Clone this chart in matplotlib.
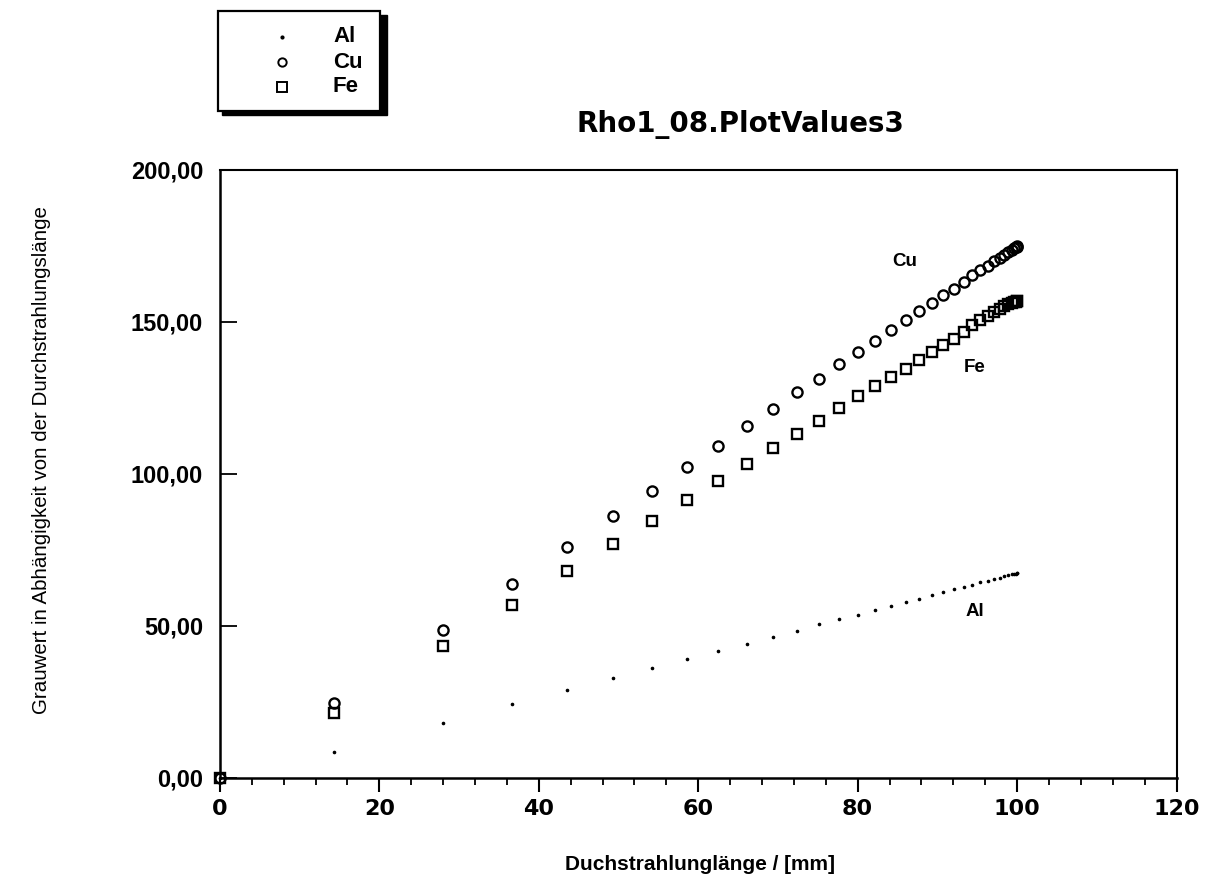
import matplotlib
matplotlib.use("Agg")
import matplotlib.pyplot as plt
from matplotlib.patches import Rectangle
from matplotlib.ticker import FuncFormatter, MultipleLocator

# Durchstrahlungslaenge [mm]
length_mm = [0, 14.3, 28.0, 36.7, 43.5, 49.3, 54.2, 58.6, 62.5, 66.1, 69.4,
             72.4, 75.1, 77.7, 80.0, 82.2, 84.2, 86.0, 87.7, 89.3, 90.7,
             92.1, 93.3, 94.4, 95.4, 96.3, 97.1, 97.8, 98.4, 98.9, 99.3,
             99.6, 99.8, 99.95, 100.0]

grau_cu = [0, 24.5, 48.7, 63.9, 75.8, 86.1, 94.5, 102.3, 109.3, 115.6, 121.3,
           126.8, 131.1, 136.1, 140.1, 143.7, 147.4, 150.7, 153.6, 156.3, 158.9,
           160.9, 163.2, 165.3, 167.0, 168.5, 169.9, 171.1, 172.1, 172.9, 173.6,
           174.1, 174.5, 174.7, 174.8]

grau_fe = [0, 21.5, 43.4, 57.0, 67.9, 76.8, 84.4, 91.4, 97.7, 103.3, 108.6,
           113.2, 117.5, 121.5, 125.5, 128.8, 131.8, 134.4, 137.4, 140.1, 142.4,
           144.4, 146.7, 149.0, 150.6, 152.0, 153.3, 154.3, 155.1, 155.7, 156.1,
           156.4, 156.6, 156.7, 156.8]

grau_al = [0, 8.6, 18.2, 24.2, 28.8, 32.8, 36.1, 39.1, 41.7, 44.0, 46.4,
           48.3, 50.7, 52.3, 53.6, 55.3, 56.6, 57.8, 59.0, 60.1, 61.1,
           62.0, 62.8, 63.6, 64.3, 64.9, 65.5, 65.9, 66.3, 66.6, 66.9,
           67.1, 67.2, 67.3, 67.3]

curve_labels = ["Cu", "Fe", "Al"]
label_pos = [(85.9, 169.9), (94.7, 135.0), (94.7, 54.6)]

FONT = ["Liberation Sans", "DejaVu Sans"]

fig = plt.figure(figsize=(12.08, 8.84), dpi=100)
ax = fig.add_axes([0.182, 0.120, 0.792, 0.688])

ax.plot(length_mm, grau_al, ls="none", marker="o", ms=1.6, color="black",
        clip_on=False)
ax.plot(length_mm, grau_cu, ls="none", marker="o", ms=7.3, mfc="none",
        mec="black", mew=1.7, clip_on=False)
ax.plot(length_mm, grau_fe, ls="none", marker="s", ms=7.5, mfc="none",
        mec="black", mew=1.7, clip_on=False)

for txt, (x, y) in zip(curve_labels, label_pos):
    ax.text(x, y, txt, ha="center", va="center", fontsize=13.5,
            fontweight="bold", family=FONT)

ax.set_xlim(0, 120)
ax.set_ylim(0, 200)
ax.xaxis.set_major_locator(MultipleLocator(20))
ax.xaxis.set_minor_locator(MultipleLocator(4))
ax.yaxis.set_major_locator(MultipleLocator(50))
ax.yaxis.set_major_formatter(FuncFormatter(lambda v, p: f"{v:.2f}".replace(".", ",")))

ax.tick_params(axis="x", which="major", direction="out", length=10, width=1.5,
               pad=5, labelsize=16)
ax.tick_params(axis="x", which="minor", direction="out", length=5, width=1.3)
ax.tick_params(axis="y", which="major", direction="in", length=12, width=1.3,
               pad=12, labelsize=17)
for lab in ax.get_xticklabels():
    lab.set_fontweight("bold")
    lab.set_family(["DejaVu Sans"])
for lab in ax.get_yticklabels():
    lab.set_fontweight("bold")
    lab.set_family(FONT)
for side in ["left", "bottom"]:
    ax.spines[side].set_linewidth(1.8)
for side in ["top", "right"]:
    ax.spines[side].set_linewidth(1.5)

ax.set_xlabel("Duchstrahlunglänge / [mm]", fontsize=15, fontweight="bold",
              family=FONT)
ax.xaxis.set_label_coords(0.502, -0.127)
ax.set_ylabel("Grauwert in Abhängigkeit von der Durchstrahlungslänge",
              fontsize=14.8, family=FONT)
ax.yaxis.set_label_coords(-0.176, 0.523)

fig.text(0.613, 0.859, "Rho1_08.PlotValues3", ha="center", va="center",
         fontsize=20, fontweight="bold", family=["DejaVu Sans"])

# legend box with drop shadow, drawn in figure pixels
W, H = 1208, 884
def fx(px):
    return px / W
def fy(py):
    return 1 - py / H

fig.patches.append(Rectangle((fx(222), fy(115)), fx(165), 100 / H, transform=fig.transFigure,
                             facecolor="black", edgecolor="black", zorder=1))
fig.patches.append(Rectangle((fx(218), fy(111)), fx(162), 100 / H, transform=fig.transFigure,
                             facecolor="white", edgecolor="black", lw=1.6, zorder=2))
legend_names = ["Al", "Cu", "Fe"]
legend_marks = [("o", 1.6, "black"), ("o", 6, "none"), ("s", 6.5, "none")]
for i, (name, (m, s, fc)) in enumerate(zip(legend_names, legend_marks)):
    yy = fy(37 + i * 25)
    fig.add_artist(plt.Line2D([fx(282)], [yy], transform=fig.transFigure,
                              marker=m, ms=s, mfc=fc, mec="black", mew=1.4,
                              ls="none", zorder=3))
    fig.text(fx(333), yy, name, ha="left", va="center", fontsize=16,
             fontweight="bold", family=FONT, zorder=3)

plt.savefig("out.png", dpi=100)
